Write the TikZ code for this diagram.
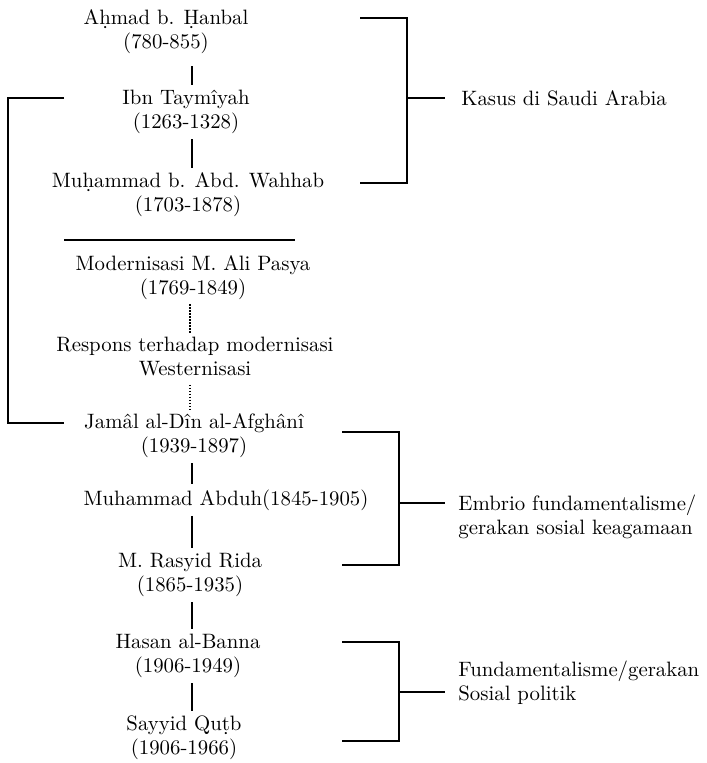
\documentclass[tikz,border=0pt]{standalone}
\usepackage{tikz}
\usetikzlibrary{positioning}

\begin{document}
\begin{tikzpicture}[
  x=0.5pt, y=-0.5pt,
  tokoh/.style={align=center, inner sep=1pt, font=\fontsize{10.4}{12}\selectfont},
  ket/.style={align=left, inner sep=0pt, font=\fontsize{10.4}{12}\selectfont},
  garis/.style={line width=0.9pt, shorten <=1.5pt, shorten >=1.5pt},
  kurung/.style={line width=0.9pt},
  titik/.style={line width=0.7pt, dash pattern=on 0.6pt off 0.9pt, shorten <=1pt, shorten >=1pt},
]
\useasboundingbox (0,0) rectangle (706,763);

% tokoh
\node[tokoh] (ahmad) at (166,32) {Aḥmad b. Ḥanbal\\(780-855)};
\node[tokoh] (taymiyah) at (186,112) {Ibn Taymîyah\\(1263-1328)};
\node[tokoh] (wahhab) at (188,195) {Muḥammad b. Abd. Wahhab\\(1703-1878)};
\node[tokoh] (ali) at (193,278) {Modernisasi M. Ali Pasya\\(1769-1849)};
\node[tokoh] (respons) at (195,357) {Respons terhadap modernisasi\\Westernisasi};
\node[tokoh] (afghani) at (194,436) {Jamâl al-Dîn al-Afghânî\\(1939-1897)};
\node[tokoh] (abduh) at (226,500) {Muhammad Abduh(1845-1905)};
\node[tokoh] (rida) at (190,575) {M. Rasyid Rida\\(1865-1935)};
\node[tokoh] (banna) at (188,656) {Hasan al-Banna\\(1906-1949)};
\node[tokoh] (qutb) at (184,738) {Sayyid Quṭb\\(1906-1966)};

\coordinate (poros) at (192,0);
\coordinate (porosb) at (190,0);

\draw[garis, shorten <=5pt] (ahmad.south -| poros) -- (taymiyah.north -| poros);
\draw[garis] (taymiyah.south -| poros) -- (wahhab.north -| poros);
\draw[titik] (ali.south -| porosb) -- (respons.north -| porosb);
\draw[titik, shorten <=3pt] (respons.south -| porosb) -- (afghani.north -| porosb);
\draw[garis] (afghani.south -| poros) -- (abduh.north -| poros);
\draw[garis] (abduh.south -| poros) -- (rida.north -| poros);
\draw[garis] (rida.south -| poros) -- (banna.north -| poros);
\draw[garis] (banna.south -| poros) -- (qutb.north -| poros);

% garis pemisah
\coordinate (p1) at (64,240);
\coordinate (p2) at (295,240);
\draw[kurung] (p1) -- (p2);

% kurung kiri
\coordinate (k1) at (64,98);
\coordinate (k2) at (64,423);
\draw[kurung] (k1) -- (8,98) -- (8,423) -- (k2);

% kurung kanan
\coordinate (t1) at (445,98);
\coordinate (t2) at (445,503);
\coordinate (t3) at (445,692);
\draw[kurung] (360,18) -- (407,18) -- (407,183) -- (360,183);
\draw[kurung] (407,98) -- (t1);
\draw[kurung] (342,432) -- (399,432) -- (399,565) -- (342,565);
\draw[kurung] (399,503) -- (t2);
\draw[kurung] (342,642) -- (399,642) -- (399,741) -- (342,741);
\draw[kurung] (399,692) -- (t3);

\node[ket, right=8pt of t1] (kasus) {Kasus di Saudi Arabia};
\node[ket, right=6.5pt of t2, yshift=-7pt] (embrio) {Embrio fundamentalisme/\\gerakan sosial keagamaan};
\node[ket, right=6.5pt of t3, yshift=4.5pt] (fund) {Fundamentalisme/gerakan\\Sosial politik};
\end{tikzpicture}
\end{document}
